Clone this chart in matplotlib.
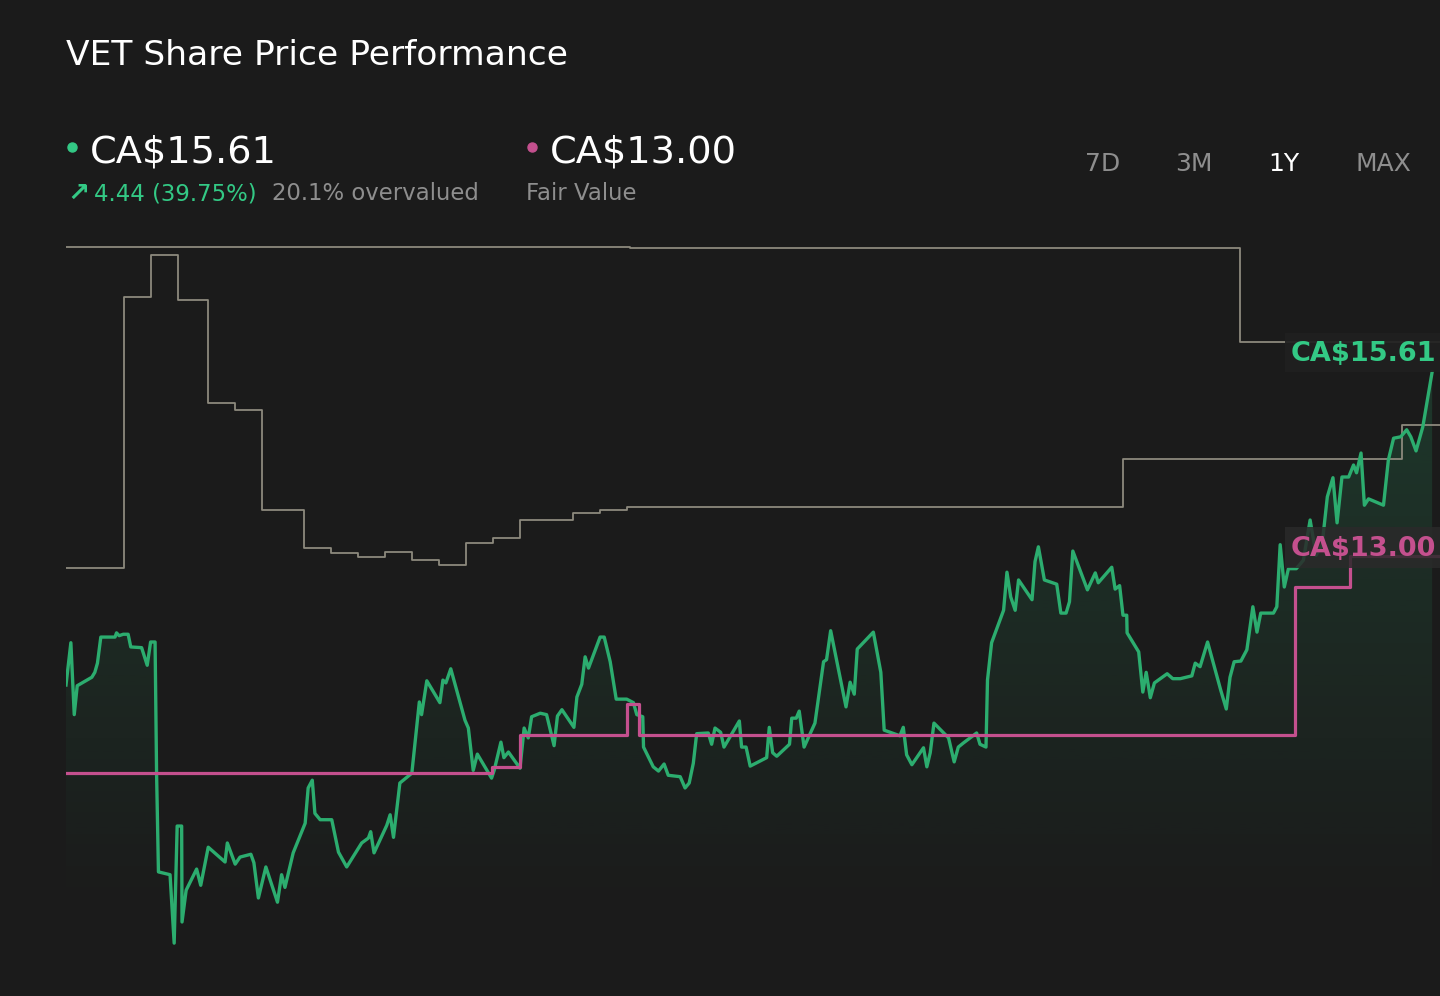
import numpy as np
import matplotlib
matplotlib.use("Agg")
from matplotlib import pyplot as plt
from matplotlib.lines import Line2D
from matplotlib.patches import Rectangle

# VET share price over the last year (day offset, CA$)
price_days = [0, 1.3, 2.2, 3.0, 6.9, 7.7, 8.4, 9.3, 13.1, 13.5, 14.2, 15.3, 16.6, 17.3, 20.2,
              21.7, 22.6, 23.8, 24.2, 24.7, 27.8, 28.9, 29.7, 30.9, 31.0, 32.1, 34.9, 36.0,
              38.0, 42.5, 43.1, 45.2, 46.5, 49.4, 50.2, 51.4, 53.4, 56.5, 57.6, 58.5, 60.7,
              63.9, 64.7, 65.8, 66.5, 67.9, 71.0, 72.8, 75.0, 79.0, 80.8, 81.4, 82.3, 85.7,
              86.6, 87.5, 89.2, 92.4, 94.4, 95.0, 96.4, 99.9, 100.7, 101.5, 102.8, 106.6,
              107.5, 108.8, 109.9, 113.7, 114.4, 116.2, 117.0, 118.2, 121.3, 122.4, 123.5,
              124.4, 126.7, 128.4, 130.4, 131.3, 132.5, 135.7, 136.5, 137.8, 138.7, 139.6,
              142.7, 143.8, 145.4, 147.0, 149.8, 151.6, 152.5, 154.1, 154.3, 156.9, 158.3,
              159.8, 160.9, 164.1, 165.4, 166.5, 167.6, 168.5, 171.6, 172.5, 173.4, 174.9,
              175.8, 179.9, 180.5, 181.7, 182.8, 187.2, 187.9, 188.8, 189.9, 193.3, 193.9,
              195.1, 195.9, 197.2, 200.1, 202.4, 203.2, 204.3, 208.4, 209.5, 210.6, 211.4,
              215.7, 217.7, 218.6, 222.8, 223.7, 224.6, 226.0, 229.1, 230.0, 230.9, 231.9,
              235.8, 237.3, 238.4, 239.8, 243.3, 244.2, 245.8, 246.2, 247.3, 250.5, 251.4,
              252.4, 253.6, 254.5, 258.1, 258.9, 259.8, 261.4, 264.7, 265.8, 267.2, 268.1,
              269.0, 272.9, 275.0, 275.8, 279.4, 280.3, 281.5, 282.4, 283.4, 283.5, 286.6,
              287.7, 288.6, 289.7, 290.8, 294.2, 295.7, 297.7, 300.8, 301.7, 303.0, 305.0,
              308.5, 310.0, 311.0, 312.1, 313.9, 315.5, 317.1, 318.2, 319.2, 322.6, 323.5,
              324.4, 325.5, 326.6, 328.7, 330.6, 332.4, 334.0, 335.6, 337.0, 338.5, 339.6,
              340.9, 342.7, 344.0, 344.8, 346.0, 346.9, 348.0, 352.0, 353.3, 354.7, 356.6,
              358.2, 359.3, 360.7, 362.5, 365.0]
price_vals = [11.17, 11.77, 10.75, 11.16, 11.28, 11.35, 11.48, 11.85, 11.85, 11.91, 11.87, 11.89,
              11.89, 11.71, 11.70, 11.45, 11.78, 11.78, 9.92, 8.52, 8.48, 7.51, 9.17, 9.17, 7.81,
              8.26, 8.56, 8.33, 8.87, 8.66, 8.93, 8.63, 8.73, 8.77, 8.65, 8.15, 8.59, 8.09, 8.48,
              8.30, 8.79, 9.21, 9.71, 9.82, 9.35, 9.26, 9.26, 8.80, 8.59, 8.93, 9.00, 9.09, 8.79,
              9.18, 9.33, 9.01, 9.78, 9.92, 10.93, 10.75, 11.23, 10.92, 11.24, 11.20, 11.40,
              10.67, 10.56, 9.96, 10.19, 9.85, 9.96, 10.36, 10.14, 10.22, 9.99, 10.56, 10.42,
              10.72, 10.77, 10.75, 10.31, 10.73, 10.82, 10.57, 11.00, 11.18, 11.57, 11.41, 11.85,
              11.85, 11.50, 10.97, 10.97, 10.92, 10.75, 10.72, 10.29, 10.01, 9.95, 10.05, 9.89,
              9.87, 9.71, 9.78, 10.06, 10.48, 10.49, 10.33, 10.56, 10.50, 10.29, 10.66, 10.29,
              10.29, 10.02, 10.14, 10.57, 10.21, 10.16, 10.33, 10.70, 10.70, 10.80, 10.29, 10.63,
              11.50, 11.53, 11.94, 10.86, 11.21, 11.04, 11.68, 11.92, 11.35, 10.53, 10.45, 10.57,
              10.18, 10.04, 10.28, 10.01, 10.21, 10.63, 10.42, 10.08, 10.29, 10.35, 10.49, 10.33,
              10.29, 11.24, 11.77, 12.23, 12.77, 12.42, 12.23, 12.66, 12.38, 12.92, 13.13, 12.66,
              12.60, 12.19, 12.19, 12.35, 13.07, 12.52, 12.76, 12.62, 12.84, 12.53, 12.58, 12.16,
              12.16, 11.91, 11.64, 11.07, 11.35, 10.99, 11.20, 11.33, 11.26, 11.26, 11.30, 11.48,
              11.43, 11.78, 11.10, 10.83, 11.28, 11.50, 11.51, 11.67, 12.28, 11.92, 12.19, 12.19,
              12.28, 13.16, 12.56, 12.82, 12.82, 12.94, 13.51, 13.01, 13.16, 13.84, 14.11, 13.47,
              14.12, 14.12, 14.29, 14.18, 14.46, 13.72, 13.81, 13.72, 14.36, 14.67, 14.69, 14.79,
              14.69, 14.49, 14.83, 15.61]

# fair value estimate (step changes)
fair_days = [0, 113.8, 121.2, 149.9, 153.0, 328.4, 343.1]
fair_vals = [9.92, 10.01, 10.46, 10.90, 10.46, 12.56, 13.00]

# grey reference lines (step changes)
upper_days = [0, 150.7, 313.7]
upper_vals = [17.38, 17.37, 16.04]
lower_days = [0, 15.5, 22.7, 29.9, 37.9, 45.2, 52.4, 63.6, 70.8, 78.0, 85.2, 92.5, 99.7,
              106.9, 114.1, 121.3, 135.5, 142.7, 149.9, 282.4, 357.0]
lower_vals = [12.83, 16.67, 17.27, 16.63, 15.17, 15.07, 13.65, 13.11, 13.04, 12.99, 13.06,
              12.94, 12.87, 13.18, 13.26, 13.51, 13.61, 13.65, 13.70, 14.38, 14.86]

last_price = "CA$15.61"
fair_value = "CA$13.00"
change_txt = "4.44 (39.75%)"
valuation_txt = "20.1% overvalued"
ranges = ["7D", "3M", "1Y", "MAX"]

BG = "#1b1b1b"
GREEN = "#2cad6f"
GREEN_TXT = "#33c985"
PINK = "#c4508e"
GREY_LINE = "#8c897d"
GREY_TXT = "#8e8e8e"

W, H = 1440, 996
fig = plt.figure(figsize=(W / 100, H / 100), dpi=100, facecolor=BG)

ax = fig.add_axes([66 / W, 0, (W - 66) / W, (H - 245) / H])
ax.set_facecolor(BG)
for s in ax.spines.values():
    s.set_visible(False)
ax.set_xticks([])
ax.set_yticks([])

x_end = 367.1
y_lo, y_hi = 6.76, 17.41


def stepped(days, vals):
    return list(days) + [x_end], list(vals) + [vals[-1]]


ux, uy = stepped(upper_days, upper_vals)
lx, ly = stepped(lower_days, lower_vals)
ax.step(ux, uy, where="post", color=GREY_LINE, lw=1.3, zorder=2)
ax.step(lx, ly, where="post", color=GREY_LINE, lw=1.3, zorder=2)

# gradient fill under price, fading out towards the bottom
poly = ax.fill_between(price_days, price_vals, y_lo, color="none", lw=0)
grad = np.zeros((256, 1, 4))
grad[..., :3] = matplotlib.colors.to_rgb(GREEN)
grad[:, 0, 3] = np.linspace(0.2, 0.0, 256)
img = ax.imshow(grad, extent=[0, 365, 8.0, 15.7], aspect="auto", origin="upper", zorder=1)
img.set_clip_path(poly.get_paths()[0], transform=ax.transData)

ax.plot(price_days, price_vals, color=GREEN, lw=2.4, zorder=3)
fx, fy = stepped(fair_days, fair_vals)
ax.step(fx, fy, where="post", color=PINK, lw=2.3, zorder=4)

ax.set_xlim(0, x_end)
ax.set_ylim(y_lo, y_hi)


def ftext(x, y, s, **kw):
    return fig.text(x / W, 1 - y / H, s, **kw)


ftext(66, 65, "VET Share Price Performance", color="white", fontsize=24.8, va="baseline")

fig.add_artist(Line2D([72 / W], [1 - 147 / H], marker="o", markersize=6.5, color=GREEN_TXT,
                      transform=fig.transFigure))
ftext(90, 162, last_price, color="white", fontsize=27.6, va="baseline")
ftext(67, 201, "\u2197", color=GREEN_TXT, fontsize=19, fontweight="bold", va="baseline")
ftext(94, 200, change_txt, color=GREEN_TXT, fontsize=16.4, va="baseline")
ftext(272, 200, valuation_txt, color=GREY_TXT, fontsize=16.4, va="baseline")

fig.add_artist(Line2D([532 / W], [1 - 147 / H], marker="o", markersize=6.5, color=PINK,
                      transform=fig.transFigure))
ftext(550, 162, fair_value, color="white", fontsize=27.6, va="baseline")
ftext(526, 200, "Fair Value", color=GREY_TXT, fontsize=16.4, va="baseline")

for name, xpos in zip(ranges, [1085, 1175, 1268, 1355]):
    ftext(xpos, 171, name, color="white" if name == "1Y" else GREY_TXT, fontsize=18, va="baseline")

# end-of-line value tags
fig.add_artist(Rectangle((1285 / W, 1 - 372 / H), 155 / W, 39 / H, transform=fig.transFigure,
                         facecolor="#202020", edgecolor="none", alpha=0.92, zorder=5))
fig.add_artist(Rectangle((1285 / W, 1 - 568 / H), 155 / W, 41 / H, transform=fig.transFigure,
                         facecolor="#2a2a2a", edgecolor="none", alpha=0.85, zorder=5))
ftext(1291, 361, last_price, color=GREEN_TXT, fontsize=19.5, fontweight="bold", va="baseline",
      zorder=6)
ftext(1291, 556, fair_value, color=PINK, fontsize=19.5, fontweight="bold", va="baseline", zorder=6)

fig.savefig("out.png", dpi=100, facecolor=BG)
plt.close()
